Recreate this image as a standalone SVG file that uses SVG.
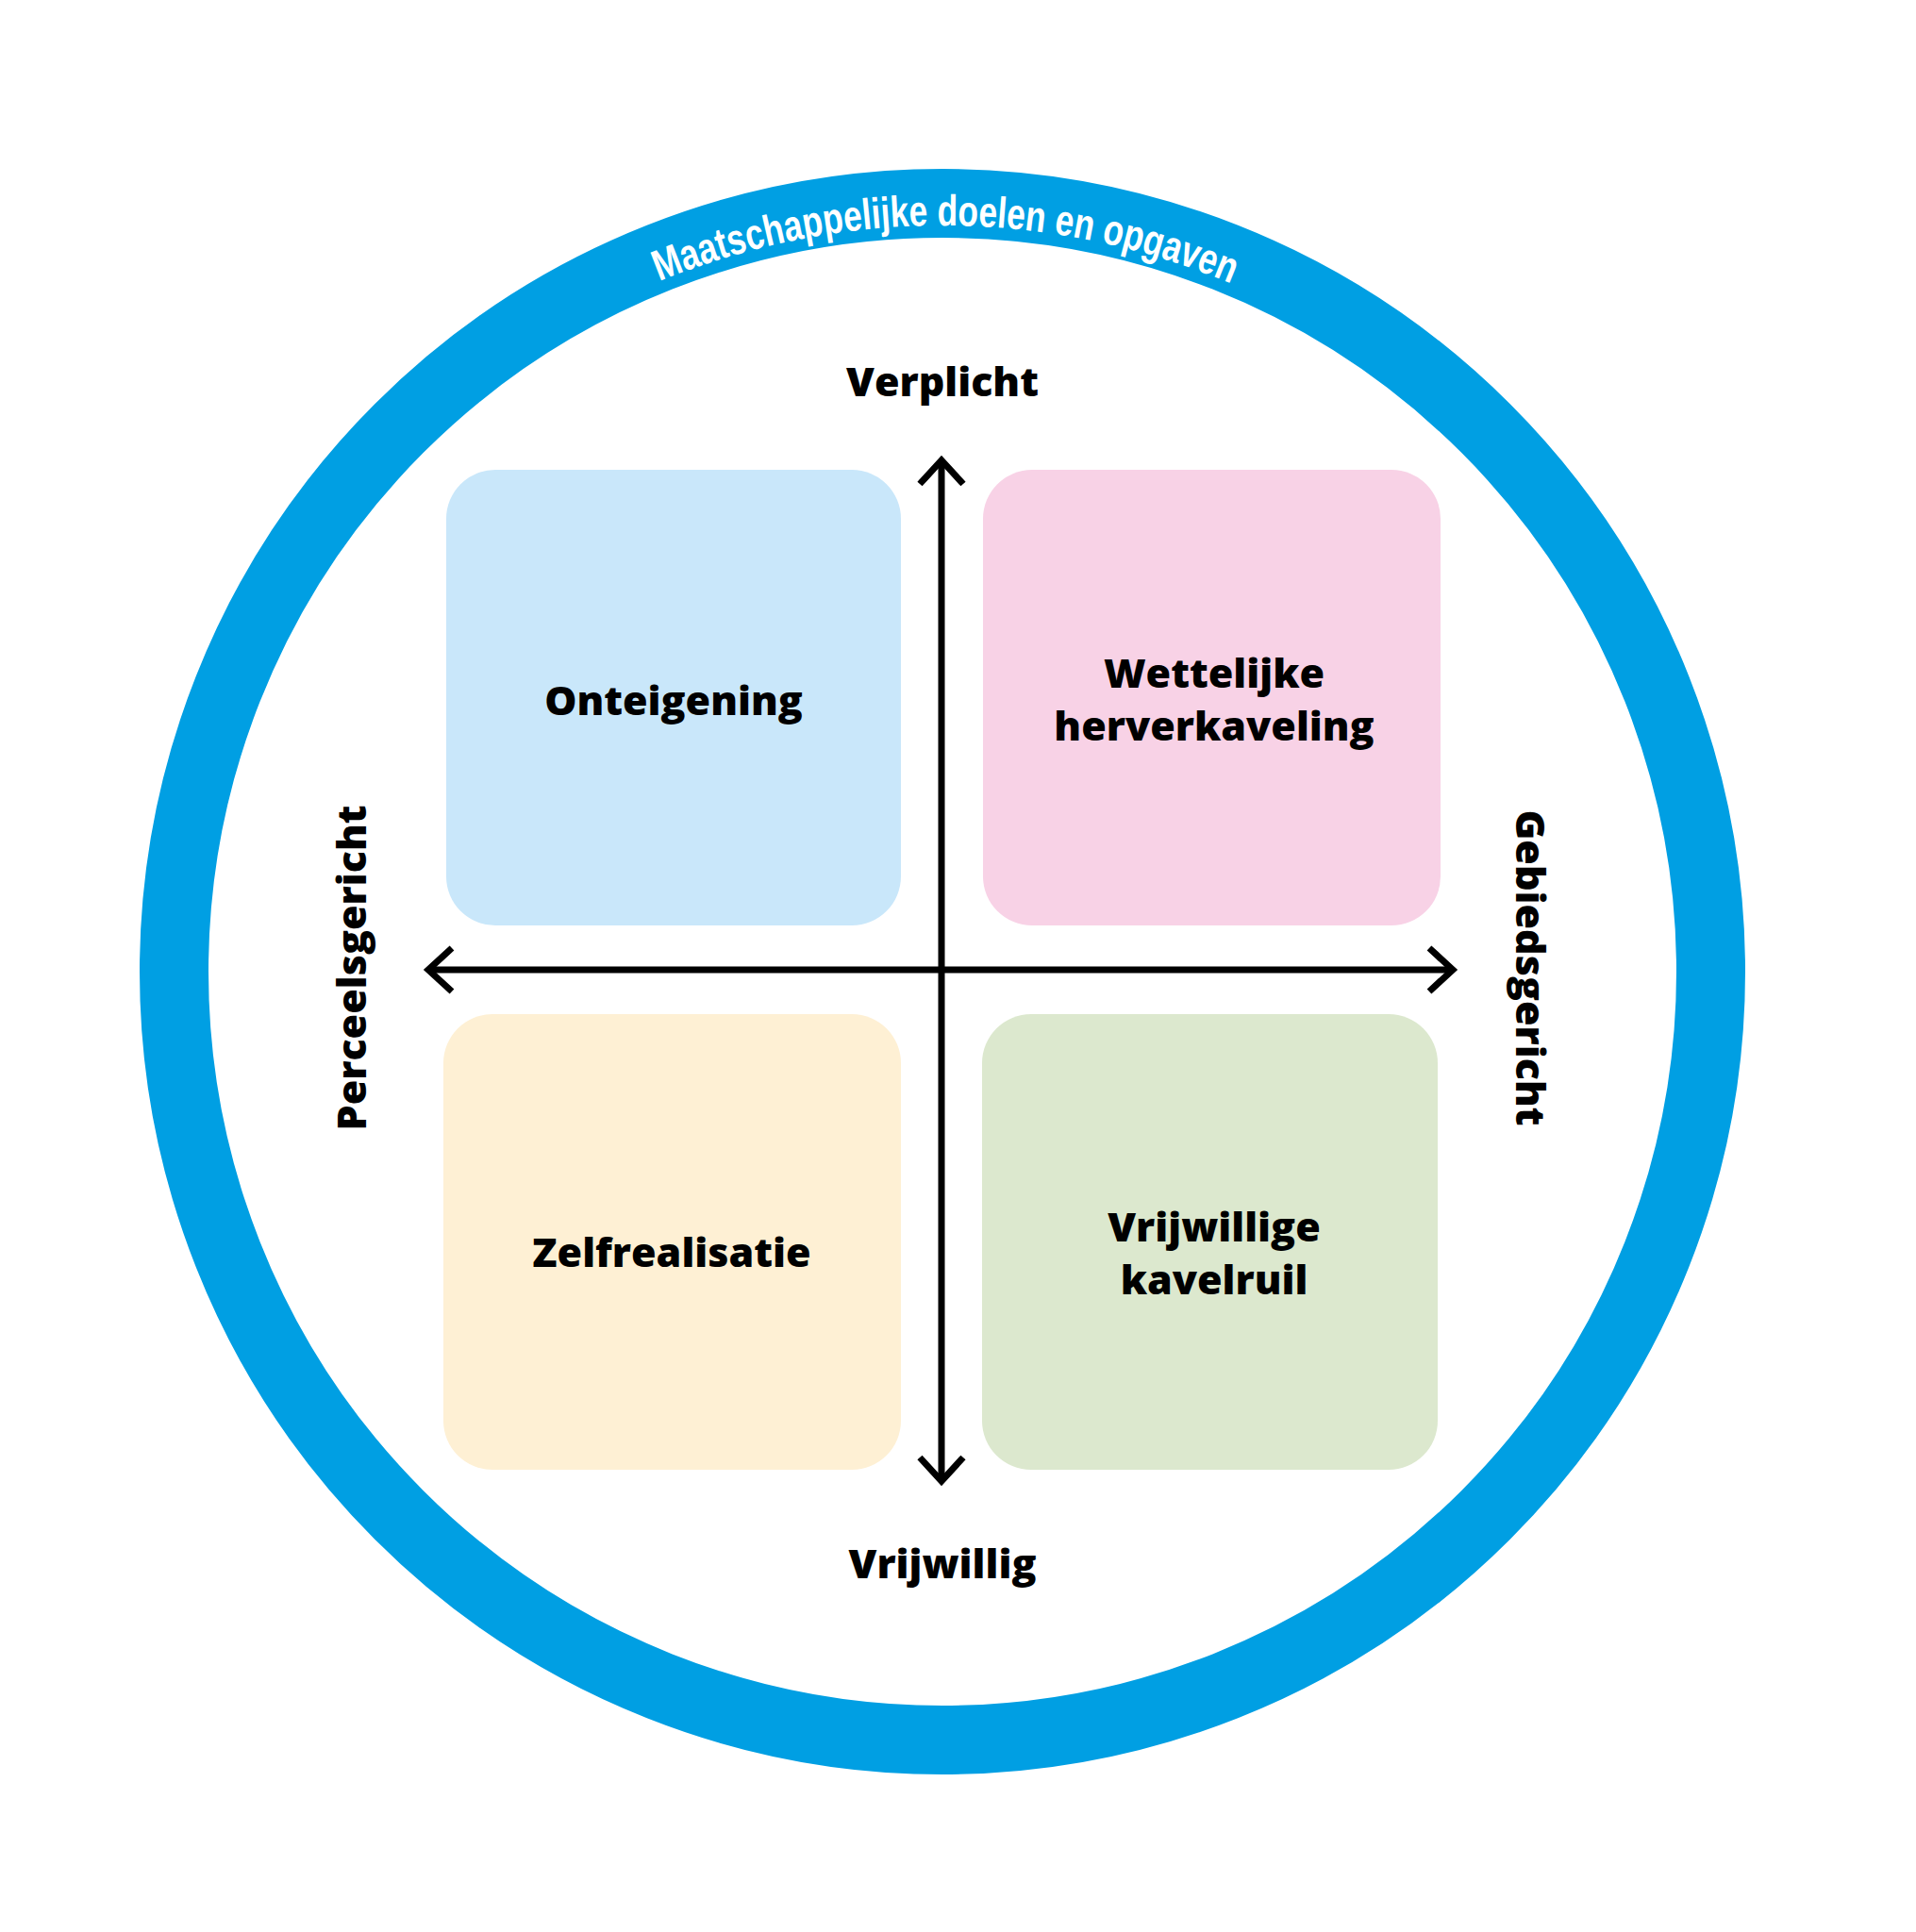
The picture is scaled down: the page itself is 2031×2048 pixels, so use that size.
<svg xmlns="http://www.w3.org/2000/svg" width="2031" height="2048" viewBox="0 0 2031 2048">
  <style>
    .lbl { font-family: "Open Sans", "Noto Sans", "DejaVu Sans", sans-serif; font-weight: 800; font-size: 43px; fill: #000; text-anchor: middle; }
    .ring-txt { font-family: "Liberation Sans Narrow", "Liberation Sans", "Open Sans", sans-serif; font-weight: 700; font-size: 46px; fill: #fff; }
    .axis { stroke: #000; stroke-width: 7; fill: none; }
  </style>
  <defs>
    <marker id="chev" markerUnits="userSpaceOnUse" orient="auto-start-reverse" refX="0" refY="0" markerWidth="80" markerHeight="80" viewBox="-40 -40 80 80" overflow="visible">
      <path d="M -25 -23 L 0 0 L -25 23" fill="none" stroke="#000" stroke-width="7" stroke-linejoin="miter"/>
    </marker>
    <path id="ringPath" d="M 314 634.5 A 791 791 0 0 1 1684 634.5"/>
  </defs>
  <rect width="2031" height="2048" fill="#fff"/>

  <g id="ring">
    <circle cx="999" cy="1030" r="814.5" fill="none" stroke="#009FE3" stroke-width="73"/>
    <text class="ring-txt"><textPath href="#ringPath" startOffset="50.2%" text-anchor="middle" textLength="622" lengthAdjust="spacingAndGlyphs">Maatschappelijke doelen en opgaven</textPath></text>
  </g>

  <g id="onteigening">
    <rect x="473" y="498" width="482" height="483" rx="52" fill="#C9E7FA"/>
    <text class="lbl" x="714" y="758">Onteigening</text>
  </g>
  <g id="wettelijke-herverkaveling">
    <rect x="1042" y="498" width="485" height="483" rx="52" fill="#F8D2E6"/>
    <text class="lbl" x="1287" y="729">Wettelijke</text>
    <text class="lbl" x="1287" y="785">herverkaveling</text>
  </g>
  <g id="zelfrealisatie">
    <rect x="470" y="1075" width="485" height="483" rx="52" fill="#FEF0D4"/>
    <text class="lbl" x="712" y="1343">Zelfrealisatie</text>
  </g>
  <g id="vrijwillige-kavelruil">
    <rect x="1041" y="1075" width="483" height="483" rx="52" fill="#DCE8CE"/>
    <text class="lbl" x="1287" y="1316">Vrijwillige</text>
    <text class="lbl" x="1287" y="1372">kavelruil</text>
  </g>

  <g id="connectors">
    <line class="axis" x1="998" y1="1570" x2="998" y2="488" marker-start="url(#chev)" marker-end="url(#chev)"/>
    <line class="axis" x1="454" y1="1028" x2="1540" y2="1028" marker-start="url(#chev)" marker-end="url(#chev)"/>
  </g>

  <g id="axis-labels">
    <text class="lbl" x="999" y="420">Verplicht</text>
    <text class="lbl" x="999" y="1673">Vrijwillig</text>
    <text class="lbl" transform="translate(388,1026) rotate(-90)">Perceelsgericht</text>
    <text class="lbl" transform="translate(1607,1026) rotate(90)">Gebiedsgericht</text>
  </g>
</svg>
